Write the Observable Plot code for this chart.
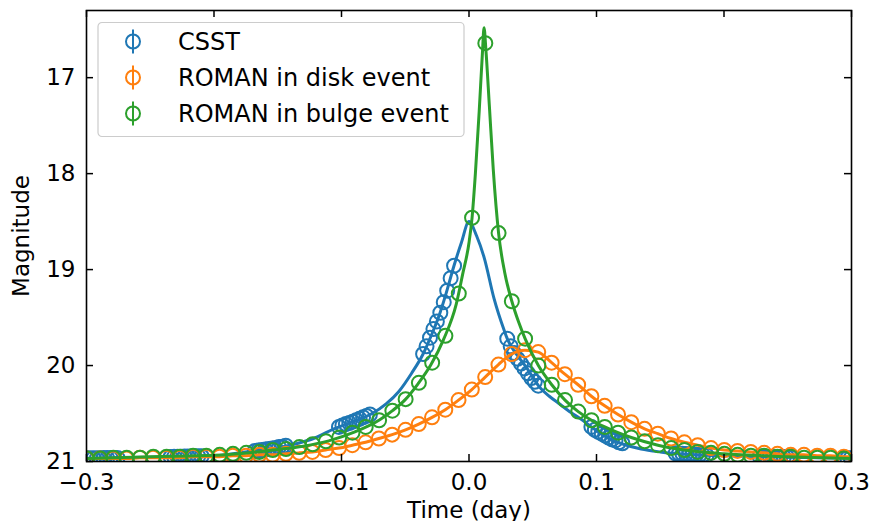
<!DOCTYPE html>
<html><head><meta charset="utf-8">
<script src="https://cdn.jsdelivr.net/npm/d3@7"></script>
<script src="https://cdn.jsdelivr.net/npm/@observablehq/plot@0.6"></script>
<style>body{margin:0;background:#fff;font-family:"DejaVu Sans",sans-serif}</style>
</head><body><div id="chart"></div>
<script>
const xTicks = [-0.3,-0.2,-0.1,0,0.1,0.2,0.3];
const yTicks = [17,18,19,20,21];
const seriesNames = ["CSST","ROMAN in disk event","ROMAN in bulge event"];
const colors = ["#1f77b4","#ff7f0e","#2ca02c"];

// CSST observations (clustered visits)
const csstT = [
 -0.3000,-0.2973,-0.2946,-0.2919,-0.2892,-0.2865,-0.2838,-0.2811,-0.2784,-0.2757,
 -0.2340,-0.2313,-0.2286,-0.2259,-0.2232,-0.2205,-0.2178,-0.2151,-0.2124,-0.2097,
 -0.1680,-0.1653,-0.1626,-0.1599,-0.1572,-0.1545,-0.1518,-0.1491,-0.1464,-0.1437,
 -0.1020,-0.0993,-0.0966,-0.0939,-0.0912,-0.0885,-0.0858,-0.0831,-0.0804,-0.0777,
 -0.0360,-0.0333,-0.0306,-0.0279,-0.0252,-0.0225,-0.0198,-0.0171,-0.0144,-0.0117,
 0.0300,0.0327,0.0354,0.0381,0.0408,0.0435,0.0462,0.0489,0.0516,0.0543,
 0.0960,0.0987,0.1014,0.1041,0.1068,0.1095,0.1122,0.1149,0.1176,0.1203,
 0.1620,0.1647,0.1674,0.1701,0.1728,0.1755,0.1782,0.1809,0.1836,0.1863,
 0.2280,0.2307,0.2334,0.2361,0.2388,0.2415,0.2442,0.2469,0.2496,0.2523,
 0.2940,0.2967,0.2994];
const csstM = [
 20.966,20.966,20.965,20.965,20.965,20.964,20.964,20.964,20.963,20.963,
 20.952,20.951,20.950,20.950,20.949,20.948,20.947,20.946,20.945,20.944,
 20.890,20.885,20.880,20.875,20.870,20.865,20.860,20.850,20.845,20.835,
 20.640,20.625,20.610,20.600,20.585,20.570,20.555,20.540,20.525,20.510,
 19.88,19.80,19.71,19.62,19.54,19.45,19.34,19.22,19.09,18.96,
 19.72,19.80,19.87,19.93,19.98,20.03,20.08,20.13,20.17,20.21,
 20.64,20.67,20.69,20.71,20.73,20.75,20.77,20.78,20.80,20.81,
 20.915,20.918,20.920,20.922,20.925,20.927,20.929,20.931,20.933,20.935,
 20.948,20.949,20.950,20.951,20.952,20.953,20.953,20.954,20.955,20.955,
 20.964,20.965,20.965];
// CSST model curve
const csstLineT = [-0.3,-0.25,-0.2,-0.17,-0.14,-0.12,-0.106,-0.09,-0.076,-0.065,-0.055,-0.045,-0.036,-0.03,-0.024,-0.018,-0.012,-0.006,0,
 0.006,0.012,0.0196,0.0275,0.03,0.035,0.04,0.045,0.05,0.055,0.063,0.07,0.08,0.088,0.096,0.105,0.113,0.121,0.135,0.15,0.17,0.2,0.25,0.3];
const csstLineM = [20.965,20.955,20.94,20.89,20.83,20.75,20.66,20.58,20.50,20.40,20.27,20.08,19.88,19.70,19.50,19.25,18.97,18.72,18.50,
 18.65,18.88,19.30,19.63,19.72,19.84,19.93,20.02,20.12,20.22,20.32,20.39,20.49,20.56,20.64,20.72,20.78,20.82,20.87,20.90,20.925,20.94,20.955,20.965];

// ROMAN disk event
const diskT = [-0.2999,-0.2895,-0.2791,-0.2686,-0.2582,-0.2478,-0.2374,-0.2270,-0.2165,-0.2061,
 -0.1957,-0.1853,-0.1749,-0.1644,-0.1540,-0.1436,-0.1332,-0.1228,-0.1124,-0.1019,
 -0.0915,-0.0811,-0.0707,-0.0603,-0.0498,-0.0394,-0.0290,-0.0186,-0.0082,0.0022,
 0.0127,0.0231,0.0335,0.0439,0.0543,0.0648,0.0752,0.0856,0.0960,0.1064,
 0.1169,0.1273,0.1377,0.1481,0.1585,0.1689,0.1794,0.1898,0.2002,0.2106,
 0.2210,0.2315,0.2419,0.2523,0.2627,0.2731,0.2835,0.2940];
const diskM = [20.97,20.97,20.97,20.97,20.96,20.96,20.96,20.96,20.95,20.95,
 20.95,20.94,20.94,20.93,20.93,20.92,20.91,20.90,20.88,20.86,
 20.83,20.80,20.76,20.72,20.67,20.61,20.54,20.46,20.36,20.25,
 20.12,19.99,19.88,19.84,19.86,19.97,20.09,20.20,20.32,20.42,
 20.51,20.59,20.66,20.71,20.76,20.80,20.83,20.86,20.88,20.89,
 20.90,20.91,20.92,20.93,20.93,20.94,20.94,20.95];

// ROMAN bulge event
const bulgeT = [-0.2997,-0.2893,-0.2789,-0.2685,-0.2580,-0.2476,-0.2372,-0.2268,-0.2164,-0.2060,
 -0.1955,-0.1851,-0.1747,-0.1643,-0.1539,-0.1435,-0.1330,-0.1226,-0.1122,-0.1018,
 -0.0914,-0.0810,-0.0705,-0.0601,-0.0497,-0.0393,-0.0289,-0.0185,-0.0080,0.0024,
 0.0128,0.0232,0.0336,0.0440,0.0544,0.0649,0.0753,0.0857,0.0961,0.1065,
 0.1169,0.1273,0.1378,0.1482,0.1586,0.1690,0.1794,0.1898,0.2003,0.2107,
 0.2211,0.2315,0.2419,0.2523,0.2628,0.2732,0.2836,0.2940];
const bulgeM = [20.97,20.97,20.96,20.96,20.96,20.95,20.95,20.95,20.94,20.94,
 20.93,20.92,20.91,20.90,20.88,20.87,20.85,20.82,20.79,20.75,
 20.70,20.64,20.57,20.47,20.35,20.18,19.97,19.69,19.25,18.46,
 16.64,18.62,19.33,19.72,20.00,20.20,20.36,20.48,20.57,20.64,
 20.70,20.75,20.79,20.83,20.86,20.88,20.90,20.91,20.92,20.93,
 20.94,20.94,20.95,20.95,20.96,20.96,20.96,20.97];
const bulgeLineT = [-0.3,-0.25,-0.2,-0.17,-0.15,-0.13,-0.11,-0.09,-0.07,-0.06,-0.05,-0.04,-0.03,-0.02,-0.01,-0.005,0,0.0024,0.005,0.008,0.0105,0.0118,
 0.0132,0.016,0.019,0.0232,0.028,0.0336,0.039,0.044,0.0544,0.0649,0.0753,0.0857,0.0961,0.1065,0.1169,0.1273,0.1482,0.169,0.2,0.25,0.3];
const bulgeLineM = [20.97,20.95,20.935,20.905,20.875,20.84,20.785,20.695,20.565,20.47,20.355,20.19,19.995,19.73,19.36,19.05,18.72,18.46,18.0,17.35,16.75,16.48,
 16.70,17.30,17.95,18.62,19.03,19.33,19.55,19.72,20.00,20.20,20.36,20.48,20.57,20.64,20.70,20.75,20.83,20.88,20.92,20.95,20.97];

const toRows = (T, M) => T.map((t, i) => ({t, m: M[i]}));
const csst = toRows(csstT, csstM), csstLine = toRows(csstLineT, csstLineM);
const disk = toRows(diskT, diskM), diskLine = toRows([...diskT, 0.3], [...diskM, 20.95]);
const bulge = toRows(bulgeT, bulgeM), bulgeLine = toRows(bulgeLineT, bulgeLineM);

const W = 872, H = 521, mL = 86, mR = 21, mT = 10, mB = 60;
const iW = W - mL - mR, iH = H - mT - mB;
const fmtX = d => (d < 0 ? "\u2212" : "") + Math.abs(d).toFixed(1);
const fmtY = d => String(d);

const dotOpts = (c) => ({x: "t", y: "m", r: 7, stroke: c, strokeWidth: 2, fill: "none", clip: true});
const lineOpts = (c) => ({x: "t", y: "m", stroke: c, strokeWidth: 3, curve: "monotone-x", clip: true});

const chart = Plot.plot({
  width: W, height: H, marginLeft: mL, marginRight: mR, marginTop: mT, marginBottom: mB,
  style: {fontFamily: "DejaVu Sans", fontSize: "23px", color: "black", background: "white"},
  x: {domain: [-0.3, 0.3], ticks: xTicks, tickFormat: fmtX, tickSize: 0, tickPadding: 12,
      label: "Time (day)", labelAnchor: "center", labelOffset: 56, labelArrow: "none"},
  y: {domain: [21, 16.3], ticks: yTicks, tickFormat: fmtY, tickSize: 0, tickPadding: 11,
      label: "Magnitude", labelAnchor: "center", labelOffset: 74, labelArrow: "none"},
  marks: [
    Plot.dot(csst, dotOpts(colors[0])),
    Plot.line(csstLine, lineOpts(colors[0])),
    Plot.dot(disk, dotOpts(colors[1])),
    Plot.line(diskLine, lineOpts(colors[1])),
    Plot.dot(bulge, dotOpts(colors[2])),
    Plot.line(bulgeLine, lineOpts(colors[2])),
    Plot.tickX(xTicks, {x: d => d, stroke: "black", strokeWidth: 1.5, insetTop: iH - 7}),
    Plot.tickX(xTicks, {x: d => d, stroke: "black", strokeWidth: 1.5, insetBottom: iH - 7}),
    Plot.tickY(yTicks, {y: d => d, stroke: "black", strokeWidth: 1.5, insetRight: iW - 7}),
    Plot.tickY(yTicks, {y: d => d, stroke: "black", strokeWidth: 1.5, insetLeft: iW - 7}),
    Plot.frame({stroke: "black", strokeWidth: 1.6})
  ]
});

// Legend (matplotlib-style, upper left inside axes)
const svg = d3.select(chart);
const lg = svg.append("g").attr("transform", `translate(${mL + 12},${mT + 12.5})`)
  .attr("text-anchor", "start");
lg.append("rect").attr("width", 366).attr("height", 114).attr("rx", 4)
  .attr("fill", "white").attr("fill-opacity", 0.8).attr("stroke", "#cccccc").attr("stroke-width", 1.2);
seriesNames.forEach((name, i) => {
  const cy = 19 + i * 36;
  const g = lg.append("g").attr("transform", `translate(35,${cy})`);
  g.append("line").attr("y1", -12).attr("y2", 12).attr("stroke", colors[i]).attr("stroke-width", 2);
  g.append("circle").attr("r", 7).attr("fill", "none").attr("stroke", colors[i]).attr("stroke-width", 2);
  lg.append("text").attr("x", 80).attr("y", cy).attr("dy", "0.36em").attr("text-anchor", "start")
    .attr("font-size", 24).attr("font-family", "DejaVu Sans").attr("fill", "black").text(name);
});

document.getElementById("chart").appendChild(chart);
</script>
</body></html>
